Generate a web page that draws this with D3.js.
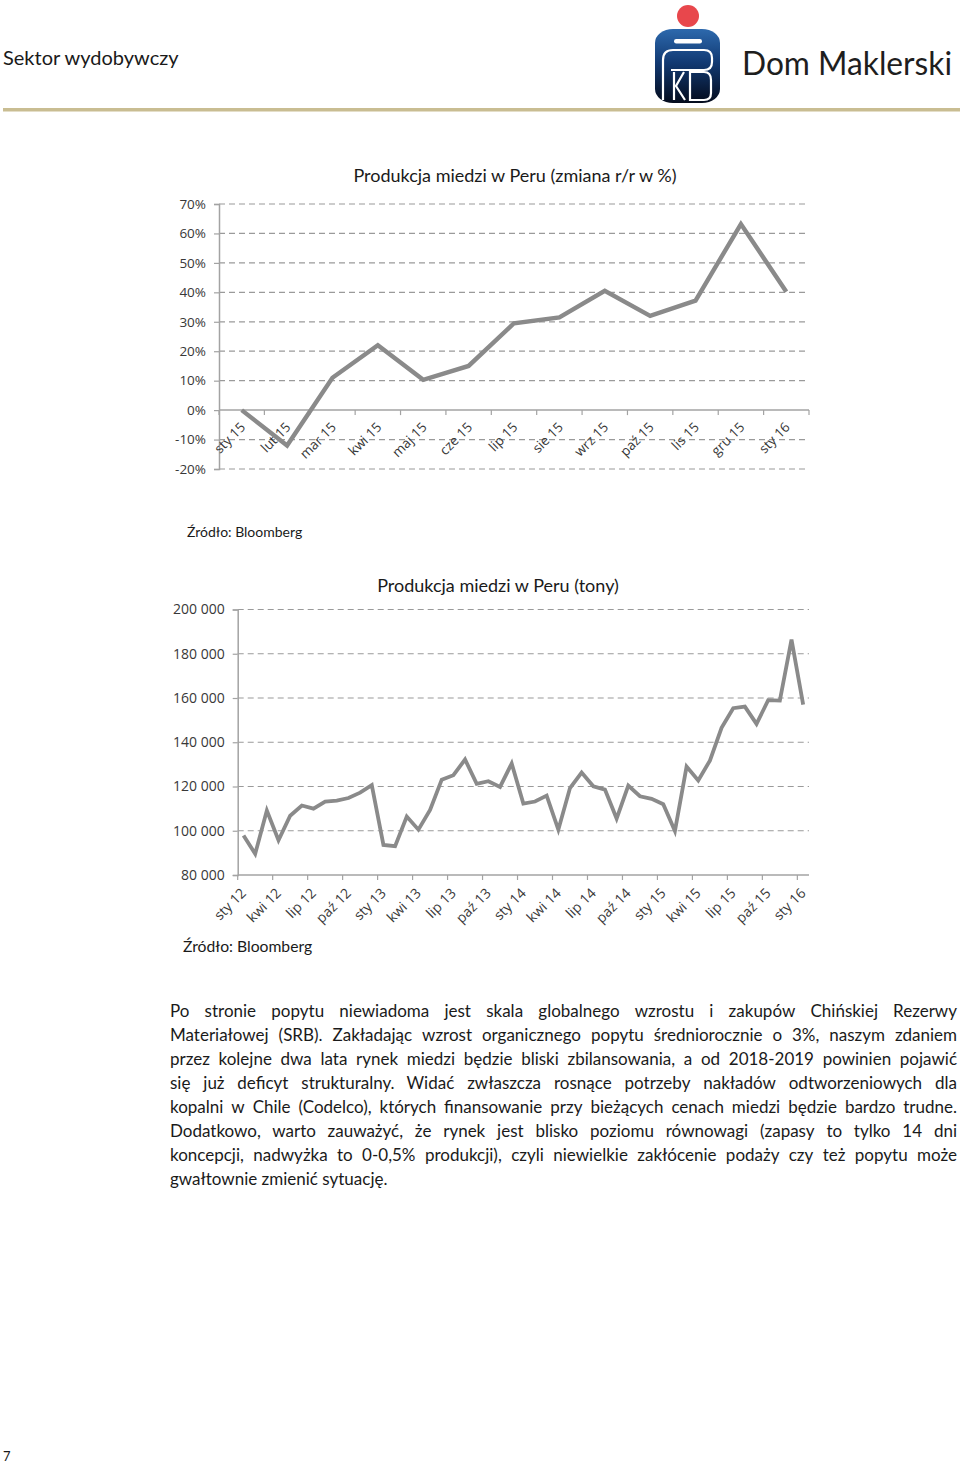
<!DOCTYPE html>
<html>
<head>
<meta charset="utf-8">
<script src="https://cdn.jsdelivr.net/npm/d3@7/dist/d3.min.js"></script>
<style>
  html, body { margin: 0; padding: 0; background: #fff; }
  svg { display: block; }
</style>
</head>
<body>
<svg id="page" width="960" height="1466"></svg>
<script>
// ---------- DATA ----------
const yoyCategories = ["sty 15","lut 15","mar 15","kwi 15","maj 15","cze 15","lip 15","sie 15","wrz 15","paź 15","lis 15","gru 15","sty 16"];
const yoyValues = [0, -12, 11, 22, 10.3, 15, 29.5, 31.5, 40.5, 32, 37.2, 63.2, 40.2];
const yoyTicks = [-20, -10, 0, 10, 20, 30, 40, 50, 60, 70];

const prodMonths = [
  "sty 12","lut 12","mar 12","kwi 12","maj 12","cze 12","lip 12","sie 12","wrz 12","paź 12","lis 12","gru 12",
  "sty 13","lut 13","mar 13","kwi 13","maj 13","cze 13","lip 13","sie 13","wrz 13","paź 13","lis 13","gru 13",
  "sty 14","lut 14","mar 14","kwi 14","maj 14","cze 14","lip 14","sie 14","wrz 14","paź 14","lis 14","gru 14",
  "sty 15","lut 15","mar 15","kwi 15","maj 15","cze 15","lip 15","sie 15","wrz 15","paź 15","lis 15","gru 15",
  "sty 16"];
const prodValues = [
  97900, 89600, 109100, 95700, 106800, 111400, 110000, 113200, 113600, 114800, 117200, 120600,
  93600, 93000, 106400, 100500, 109400, 123100, 125100, 132200, 121200, 122400, 119800, 130400,
  112300, 113200, 115900, 100500, 119300, 126300, 120100, 118600, 105500, 120400, 115600, 114400,
  112000, 99900, 129000, 122700, 131700, 146500, 155400, 156100, 148300, 159000, 158800, 186400,
  157000];
const prodTicks = [80000, 100000, 120000, 140000, 160000, 180000, 200000];
const prodLabelMonths = ["sty 12","kwi 12","lip 12","paź 12","sty 13","kwi 13","lip 13","paź 13","sty 14","kwi 14","lip 14","paź 14","sty 15","kwi 15","lip 15","paź 15","sty 16"];

const paragraphLines = [
  "Po stronie popytu niewiadoma jest skala globalnego wzrostu i zakupów Chińskiej Rezerwy",
  "Materiałowej (SRB). Zakładając wzrost organicznego popytu średniorocznie o 3%, naszym zdaniem",
  "przez kolejne dwa lata rynek miedzi będzie bliski zbilansowania, a od 2018-2019 powinien pojawić",
  "się już deficyt strukturalny. Widać zwłaszcza rosnące potrzeby nakładów odtworzeniowych dla",
  "kopalni w Chile (Codelco), których finansowanie przy bieżących cenach miedzi będzie bardzo trudne.",
  "Dodatkowo, warto zauważyć, że rynek jest blisko poziomu równowagi (zapasy to tylko 14 dni",
  "koncepcji, nadwyżka to 0-0,5% produkcji), czyli niewielkie zakłócenie podaży czy też popytu może",
  "gwałtownie zmienić sytuację."
];

// ---------- STYLE ----------
const brandFont = "Lato, 'Noto Sans', sans-serif";
const axisFont = "'Open Sans', 'Noto Sans', sans-serif";
const lineColor = "#8a8a8a";
const gridColor = "#9a9a9a";
const axisColor = "#a3a3a3";
const labelColor = "#383838";

const svg = d3.select("#page");

// ---------- HEADER ----------
svg.append("text").attr("x", 3).attr("y", 65)
  .attr("font-family", brandFont).attr("font-size", 20).attr("fill", "#1a1a1a")
  .text("Sektor wydobywczy");

svg.append("rect").attr("x", 3).attr("y", 108).attr("width", 957).attr("height", 3.5).attr("fill", "#c9bd92");

const defs = svg.append("defs");
const grad = defs.append("linearGradient").attr("id", "logoGrad").attr("x1", 0).attr("y1", 0).attr("x2", 0).attr("y2", 1);
grad.append("stop").attr("offset", "0%").attr("stop-color", "#2d69ad");
grad.append("stop").attr("offset", "45%").attr("stop-color", "#123a73");
grad.append("stop").attr("offset", "100%").attr("stop-color", "#040b1c");

const logo = svg.append("g");
logo.append("circle").attr("cx", 688).attr("cy", 16).attr("r", 11).attr("fill", "#e8474c");
logo.append("rect").attr("x", 655).attr("y", 29).attr("width", 65).attr("height", 74)
  .attr("rx", 18).attr("ry", 14).attr("fill", "url(#logoGrad)");
logo.append("rect").attr("x", 674).attr("y", 39).attr("width", 28).attr("height", 4.5).attr("rx", 2.2).attr("fill", "#fff");
logo.append("path")
  .attr("d", "M663,100 V60 Q663,50 673,50 H704 Q712,50 712,58 V62 Q712,70 704,70 H671")
  .attr("fill", "none").attr("stroke", "#fff").attr("stroke-width", 2.2);
logo.append("path").attr("d", "M674,72 V100 M684,72 L676,86 L685,100")
  .attr("fill", "none").attr("stroke", "#fff").attr("stroke-width", 2.2);
logo.append("path").attr("d", "M690,72 H704 Q711,72 711,80 V93 Q711,100 704,100 H690 Z")
  .attr("fill", "none").attr("stroke", "#fff").attr("stroke-width", 2.2);

svg.append("text").attr("x", 742).attr("y", 75)
  .attr("font-family", brandFont).attr("font-size", 33).attr("fill", "#1e1e1e")
  .attr("textLength", 210).attr("lengthAdjust", "spacingAndGlyphs")
  .text("Dom Maklerski");

// ---------- CHART 1 ----------
(function () {
  const left = 219, right = 809, top = 204, bottom = 469;
  const x = d3.scaleBand().domain(yoyCategories).range([left, right]);
  const y = d3.scaleLinear().domain([-20, 70]).range([bottom, top]);
  const g = svg.append("g");

  g.append("text").attr("x", 515).attr("y", 182).attr("text-anchor", "middle")
    .attr("font-family", brandFont).attr("font-size", 18).attr("fill", "#1a1a1a")
    .text("Produkcja miedzi w Peru (zmiana r/r w %)");

  g.selectAll(".grid").data(yoyTicks.filter(t => t !== 0)).join("line")
    .attr("x1", left).attr("x2", right).attr("y1", d => y(d)).attr("y2", d => y(d))
    .attr("stroke", gridColor).attr("stroke-width", 1.2).attr("stroke-dasharray", "6,4");

  const yAxis = d3.axisLeft(y).tickValues(yoyTicks).tickSize(5).tickPadding(8)
    .tickFormat(d => d + "%");
  const ya = g.append("g").attr("transform", `translate(${left},0)`).call(yAxis);
  ya.select(".domain").attr("stroke", axisColor).attr("stroke-width", 1.5);
  ya.selectAll(".tick line").attr("stroke", axisColor).attr("stroke-width", 1.2);
  ya.selectAll(".tick text").attr("font-family", axisFont).attr("font-size", 13.5).attr("fill", labelColor);

  const y0 = y(0);
  g.append("line").attr("x1", left).attr("x2", right).attr("y1", y0).attr("y2", y0)
    .attr("stroke", axisColor).attr("stroke-width", 1.5);
  const bounds = yoyCategories.map(c => x(c)).concat([right]);
  g.selectAll(".xt").data(bounds).join("line")
    .attr("x1", d => d).attr("x2", d => d).attr("y1", y0).attr("y2", y0 + 5)
    .attr("stroke", axisColor).attr("stroke-width", 1.2);
  g.selectAll(".xl").data(yoyCategories).join("text")
    .attr("transform", d => `translate(${x(d) + x.bandwidth() / 2 + 4.5},${y0 + 18}) rotate(-45)`)
    .attr("text-anchor", "end")
    .attr("font-family", axisFont).attr("font-size", 13.5).attr("fill", labelColor)
    .text(d => d);

  const line = d3.line().x((d, i) => x(yoyCategories[i]) + x.bandwidth() / 2).y(d => y(d));
  g.append("path").datum(yoyValues).attr("d", line)
    .attr("fill", "none").attr("stroke", lineColor).attr("stroke-width", 4.4)
    .attr("stroke-linejoin", "miter");

  g.append("text").attr("x", 187).attr("y", 537)
    .attr("font-family", brandFont).attr("font-size", 14).attr("fill", "#1a1a1a")
    .text("Źródło: Bloomberg");
})();

// ---------- CHART 2 ----------
(function () {
  const left = 237.7, right = 809, top = 609.5, bottom = 875;
  const x = d3.scaleBand().domain(prodMonths).range([left, right]);
  const y = d3.scaleLinear().domain([80000, 200000]).range([bottom, top]);
  const g = svg.append("g");

  g.append("text").attr("x", 498).attr("y", 592).attr("text-anchor", "middle")
    .attr("font-family", brandFont).attr("font-size", 18).attr("fill", "#1a1a1a")
    .text("Produkcja miedzi w Peru (tony)");

  g.selectAll(".grid").data(prodTicks.filter(t => t !== 80000)).join("line")
    .attr("x1", left).attr("x2", right).attr("y1", d => y(d)).attr("y2", d => y(d))
    .attr("stroke", gridColor).attr("stroke-width", 1.2).attr("stroke-dasharray", "6,4");

  const fmt = d => d3.format(",")(d).replace(/,/g, " ");
  const yAxis = d3.axisLeft(y).tickValues(prodTicks).tickSize(5).tickPadding(8).tickFormat(fmt);
  const ya = g.append("g").attr("transform", `translate(${left},0)`).call(yAxis);
  ya.select(".domain").attr("stroke", axisColor).attr("stroke-width", 1.5);
  ya.selectAll(".tick line").attr("stroke", axisColor).attr("stroke-width", 1.2);
  ya.selectAll(".tick text").attr("font-family", axisFont).attr("font-size", 14).attr("fill", labelColor);

  g.append("line").attr("x1", left).attr("x2", right).attr("y1", bottom).attr("y2", bottom)
    .attr("stroke", axisColor).attr("stroke-width", 1.5);
  g.selectAll(".xt").data(prodLabelMonths).join("line")
    .attr("x1", d => x(d)).attr("x2", d => x(d)).attr("y1", bottom).attr("y2", bottom + 5)
    .attr("stroke", axisColor).attr("stroke-width", 1.2);
  g.selectAll(".xl").data(prodLabelMonths).join("text")
    .attr("transform", d => `translate(${x(d) + x.bandwidth() / 2 + 3.5},${bottom + 19}) rotate(-45)`)
    .attr("text-anchor", "end")
    .attr("font-family", axisFont).attr("font-size", 14).attr("fill", labelColor)
    .text(d => d);

  const line = d3.line().x((d, i) => x(prodMonths[i]) + x.bandwidth() / 2).y(d => y(d));
  g.append("path").datum(prodValues).attr("d", line)
    .attr("fill", "none").attr("stroke", lineColor).attr("stroke-width", 3.8)
    .attr("stroke-linejoin", "miter");

  g.append("text").attr("x", 183).attr("y", 952)
    .attr("font-family", brandFont).attr("font-size", 15.7).attr("fill", "#1a1a1a")
    .text("Źródło: Bloomberg");
})();

// ---------- PARAGRAPH ----------
(function () {
  const x0 = 170, width = 787, y0 = 1017, lh = 24;
  const g = svg.append("g").attr("font-family", brandFont).attr("font-size", 17).attr("fill", "#1a1a1a");
  paragraphLines.forEach((ln, i) => {
    const words = ln.split(" ");
    const t = g.append("text").attr("y", y0 + i * lh);
    const spans = words.map(w => t.append("tspan").text(w));
    const widths = spans.map(s => s.node().getComputedTextLength());
    const total = d3.sum(widths);
    const last = i === paragraphLines.length - 1;
    const gap = last ? 4.3 : (width - total) / (words.length - 1);
    let cx = x0;
    spans.forEach((s, k) => { s.attr("x", cx); cx += widths[k] + gap; });
  });
})();

svg.append("text").attr("x", 3).attr("y", 1461)
  .attr("font-family", brandFont).attr("font-size", 13).attr("fill", "#1a1a1a").text("7");
</script>
</body>
</html>
